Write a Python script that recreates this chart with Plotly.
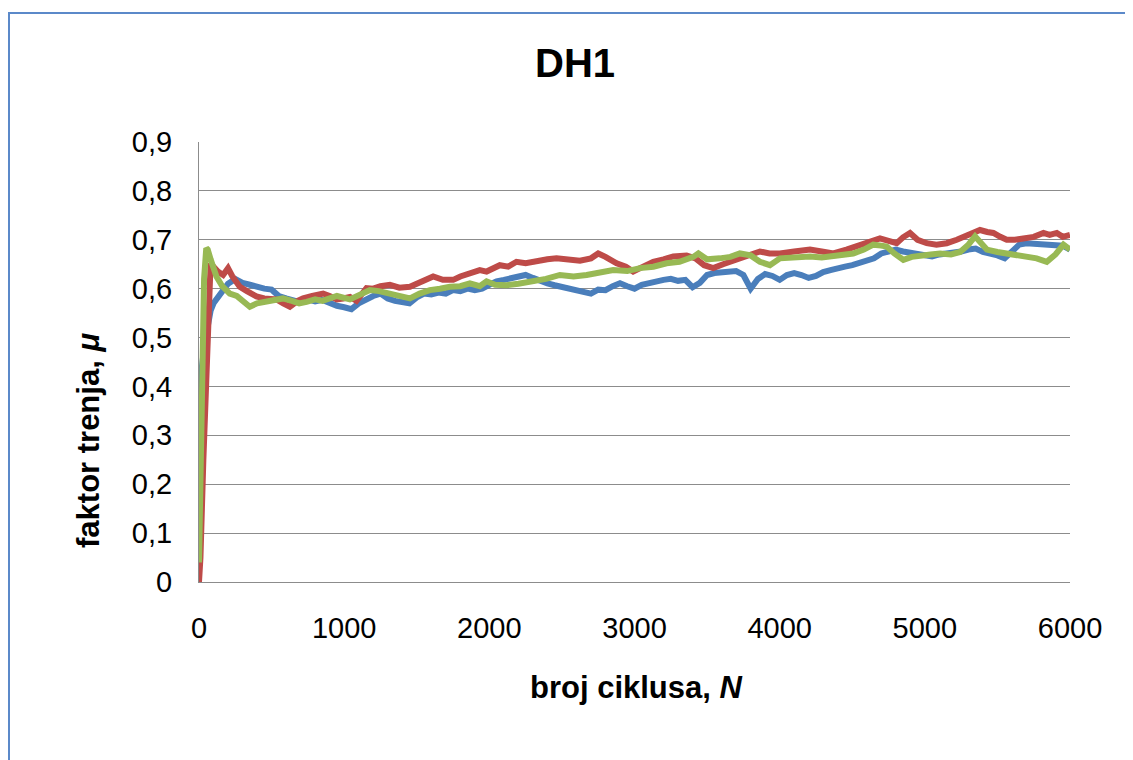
import plotly.graph_objects as go

# ---------------- data ----------------
blue_x = [0, 10, 20, 40, 60, 80, 100, 150, 200, 250, 300, 350, 400, 450, 500, 550, 600, 650, 700, 750,
          800, 850, 900, 950, 1000, 1050, 1100, 1150, 1200, 1250, 1300, 1350, 1400, 1450, 1500, 1550,
          1600, 1650, 1700, 1750, 1800, 1850, 1900, 1950, 2000, 2050, 2100, 2150, 2200, 2250, 2300,
          2350, 2400, 2450, 2500, 2550, 2600, 2650, 2700, 2750, 2800, 2850, 2900, 2950, 3000, 3050,
          3100, 3150, 3200, 3250, 3300, 3350, 3400, 3450, 3500, 3550, 3600, 3650, 3700, 3750, 3800,
          3850, 3900, 3950, 4000, 4050, 4100, 4150, 4200, 4250, 4300, 4350, 4400, 4450, 4500, 4550,
          4600, 4650, 4700, 4750, 4800, 4850, 4900, 4950, 5000, 5050, 5100, 5150, 5200, 5250, 5300,
          5350, 5400, 5450, 5500, 5550, 5600, 5650, 5700, 5750, 5800, 5850, 5900, 5950, 6000]
blue_y = [0.30, 0.38, 0.44, 0.49, 0.53, 0.555, 0.57, 0.59, 0.61, 0.62, 0.612, 0.608, 0.603, 0.600,
          0.598, 0.585, 0.580, 0.575, 0.572, 0.578, 0.574, 0.577, 0.570, 0.565, 0.562, 0.558, 0.570,
          0.578, 0.585, 0.590, 0.580, 0.575, 0.572, 0.570, 0.582, 0.590, 0.588, 0.592, 0.590, 0.597,
          0.595, 0.600, 0.597, 0.600, 0.608, 0.615, 0.618, 0.622, 0.626, 0.628, 0.622, 0.615, 0.611,
          0.607, 0.603, 0.602, 0.596, 0.593, 0.590, 0.598, 0.597, 0.605, 0.611, 0.605, 0.600, 0.608,
          0.612, 0.615, 0.618, 0.620, 0.616, 0.618, 0.603, 0.612, 0.628, 0.632, 0.634, 0.635, 0.636,
          0.628, 0.600, 0.620, 0.630, 0.626, 0.618, 0.628, 0.632, 0.628, 0.622, 0.626, 0.634, 0.638,
          0.640, 0.645, 0.648, 0.652, 0.655, 0.662, 0.672, 0.676, 0.680, 0.676, 0.674, 0.672, 0.668,
          0.666, 0.670, 0.672, 0.672, 0.676, 0.680, 0.682, 0.675, 0.672, 0.668, 0.662, 0.675, 0.690,
          0.693, 0.692, 0.693, 0.690, 0.690, 0.688, 0.680]

red_x = [0, 10, 30, 50, 60, 70, 80, 100, 130, 166, 200, 230, 281, 330, 396, 450, 534, 580, 626, 680,
         717, 780, 855, 900, 950, 993, 1040, 1085, 1154, 1200, 1250, 1315, 1380, 1453, 1500, 1550,
         1613, 1680, 1751, 1800, 1866, 1934, 1981, 2072, 2130, 2187, 2250, 2325, 2400, 2463, 2540,
         2624, 2700, 2750, 2800, 2877, 2940, 2991, 3060, 3129, 3200, 3267, 3359, 3420, 3480, 3542,
         3610, 3680, 3760, 3864, 3930, 4002, 4100, 4209, 4290, 4370, 4460, 4553, 4620, 4691, 4750,
         4806, 4850, 4898, 4950, 5013, 5080, 5151, 5220, 5289, 5340, 5380, 5430, 5472, 5520, 5564,
         5620, 5679, 5750, 5817, 5860, 5909, 5950, 6000]
red_y = [0.0, 0.05, 0.25, 0.45, 0.55, 0.62, 0.652, 0.645, 0.635, 0.628, 0.642, 0.625, 0.604, 0.595,
         0.584, 0.580, 0.578, 0.570, 0.563, 0.575, 0.580, 0.585, 0.590, 0.585, 0.578, 0.580, 0.583,
         0.575, 0.601, 0.600, 0.605, 0.608, 0.602, 0.604, 0.610, 0.615, 0.625, 0.618, 0.618, 0.625,
         0.632, 0.638, 0.635, 0.648, 0.645, 0.655, 0.652, 0.657, 0.660, 0.662, 0.660, 0.657, 0.662,
         0.672, 0.665, 0.652, 0.645, 0.635, 0.645, 0.655, 0.660, 0.666, 0.668, 0.662, 0.648, 0.642,
         0.650, 0.657, 0.668, 0.676, 0.672, 0.672, 0.676, 0.680, 0.676, 0.672, 0.680, 0.690, 0.696,
         0.703, 0.698, 0.693, 0.705, 0.714, 0.700, 0.693, 0.690, 0.693, 0.700, 0.710, 0.715, 0.720,
         0.716, 0.714, 0.706, 0.700, 0.700, 0.703, 0.706, 0.714, 0.710, 0.714, 0.706, 0.710]

green_x = [0, 10, 20, 35, 50, 60, 80, 100, 120, 160, 212, 260, 300, 350, 400, 465, 520, 578, 640,
           690, 741, 800, 850, 900, 950, 1039, 1100, 1177, 1240, 1315, 1380, 1453, 1520, 1590, 1660,
           1728, 1800, 1866, 1934, 1981, 2040, 2118, 2200, 2302, 2390, 2486, 2580, 2670, 2760, 2853,
           2950, 3037, 3130, 3221, 3310, 3405, 3440, 3500, 3588, 3660, 3726, 3800, 3864, 3933, 4002,
           4100, 4209, 4290, 4370, 4440, 4507, 4580, 4645, 4700, 4737, 4790, 4852, 4910, 4967, 5040,
           5105, 5180, 5243, 5300, 5346, 5390, 5427, 5500, 5564, 5630, 5702, 5770, 5840, 5900, 5955,
           6000]
green_y = [0.04, 0.20, 0.45, 0.62, 0.683, 0.680, 0.660, 0.640, 0.625, 0.605, 0.590, 0.585, 0.575,
           0.563, 0.570, 0.573, 0.575, 0.580, 0.575, 0.570, 0.573, 0.578, 0.575, 0.580, 0.585, 0.578,
           0.585, 0.597, 0.595, 0.590, 0.585, 0.580, 0.590, 0.597, 0.600, 0.604, 0.605, 0.611, 0.605,
           0.615, 0.608, 0.607, 0.610, 0.614, 0.620, 0.628, 0.625, 0.628, 0.633, 0.638, 0.636, 0.642,
           0.645, 0.652, 0.655, 0.665, 0.672, 0.660, 0.662, 0.665, 0.672, 0.668, 0.655, 0.648, 0.662,
           0.664, 0.666, 0.664, 0.668, 0.670, 0.672, 0.680, 0.690, 0.688, 0.686, 0.672, 0.659, 0.665,
           0.668, 0.670, 0.672, 0.670, 0.675, 0.690, 0.707, 0.690, 0.680, 0.675, 0.672, 0.668, 0.666,
           0.662, 0.655, 0.670, 0.690, 0.680]

x_ticks = [0, 1000, 2000, 3000, 4000, 5000, 6000]
x_tick_labels = ["0", "1000", "2000", "3000", "4000", "5000", "6000"]
y_ticks = [0, 0.1, 0.2, 0.3, 0.4, 0.5, 0.6, 0.7, 0.8, 0.9]
y_tick_labels = ["0", "0,1", "0,2", "0,3", "0,4", "0,5", "0,6", "0,7", "0,8", "0,9"]

title_text = "<b>DH1</b>"
x_title = "<b>broj ciklusa, <i>N</i></b>"
y_title = "<b>faktor trenja, <i>μ</i></b>"

# ---------------- figure ----------------
FONT = "Liberation Sans, Arial, sans-serif"
OFF = 8                      # page body margin of the browser
W, H = 1133 - OFF, 760 - OFF
# plot area in page pixels: x 199..1070, y 142..582
PL, PR, PT, PB = 199 - OFF, 1070 - OFF, 142 - OFF, 582 - OFF
L, R, T, B = PL, W - PR, PT, H - PB
PW, PH = PR - PL, PB - PT


def px(xp):
    return (xp - OFF - PL) / PW


def py(yp):
    return (PB - (yp - OFF)) / PH


fig = go.Figure()
series = [
    (blue_x, blue_y, "#4A7EBB"),
    (red_x, red_y, "#BE4B48"),
    (green_x, green_y, "#98B954"),
]
for xs, ys, col in series:
    fig.add_trace(go.Scatter(x=xs, y=ys, mode="lines",
                             line=dict(color=col, width=6), showlegend=False,
                             hoverinfo="skip"))

grid = "#8C8C8C"
fig.update_layout(
    width=W, height=H,
    margin=dict(l=L, r=R, t=T, b=B, pad=0),
    paper_bgcolor="white", plot_bgcolor="white",
    font=dict(family=FONT, color="black"),
    showlegend=False,
    xaxis=dict(range=[0, 6000], tickvals=x_ticks, ticktext=x_tick_labels,
               showgrid=False, zeroline=False, showline=True, linecolor=grid,
               linewidth=1, ticks="", ticklabelstandoff=20,
               tickfont=dict(size=29, family=FONT, color="black")),
    yaxis=dict(range=[0, 0.9], tickvals=y_ticks, ticktext=y_tick_labels,
               showgrid=True, gridcolor=grid, gridwidth=1, zeroline=False,
               showline=True, linecolor=grid, linewidth=1, ticks="",
               ticklabelstandoff=20,
               tickfont=dict(size=29, family=FONT, color="black")),
    shapes=[
        dict(type="rect", xref="paper", yref="paper",
             x0=px(9), x1=px(1170), y0=py(800), y1=py(13),
             line=dict(color="#5B89C9", width=2), fillcolor="rgba(0,0,0,0)",
             layer="below"),
    ],
    annotations=[
        dict(text=title_text, xref="paper", yref="paper", x=px(575), y=py(63),
             xanchor="center", yanchor="middle", showarrow=False,
             font=dict(size=40, family=FONT, color="black")),
        dict(text=x_title, xref="paper", yref="paper", x=px(636), y=py(687),
             xanchor="center", yanchor="middle", showarrow=False,
             font=dict(size=31, family=FONT, color="black")),
        dict(text=y_title, xref="paper", yref="paper", x=px(88), y=py(441),
             xanchor="center", yanchor="middle", showarrow=False, textangle=-90,
             font=dict(size=31, family=FONT, color="black")),
    ],
)

fig.write_html("out.html")
